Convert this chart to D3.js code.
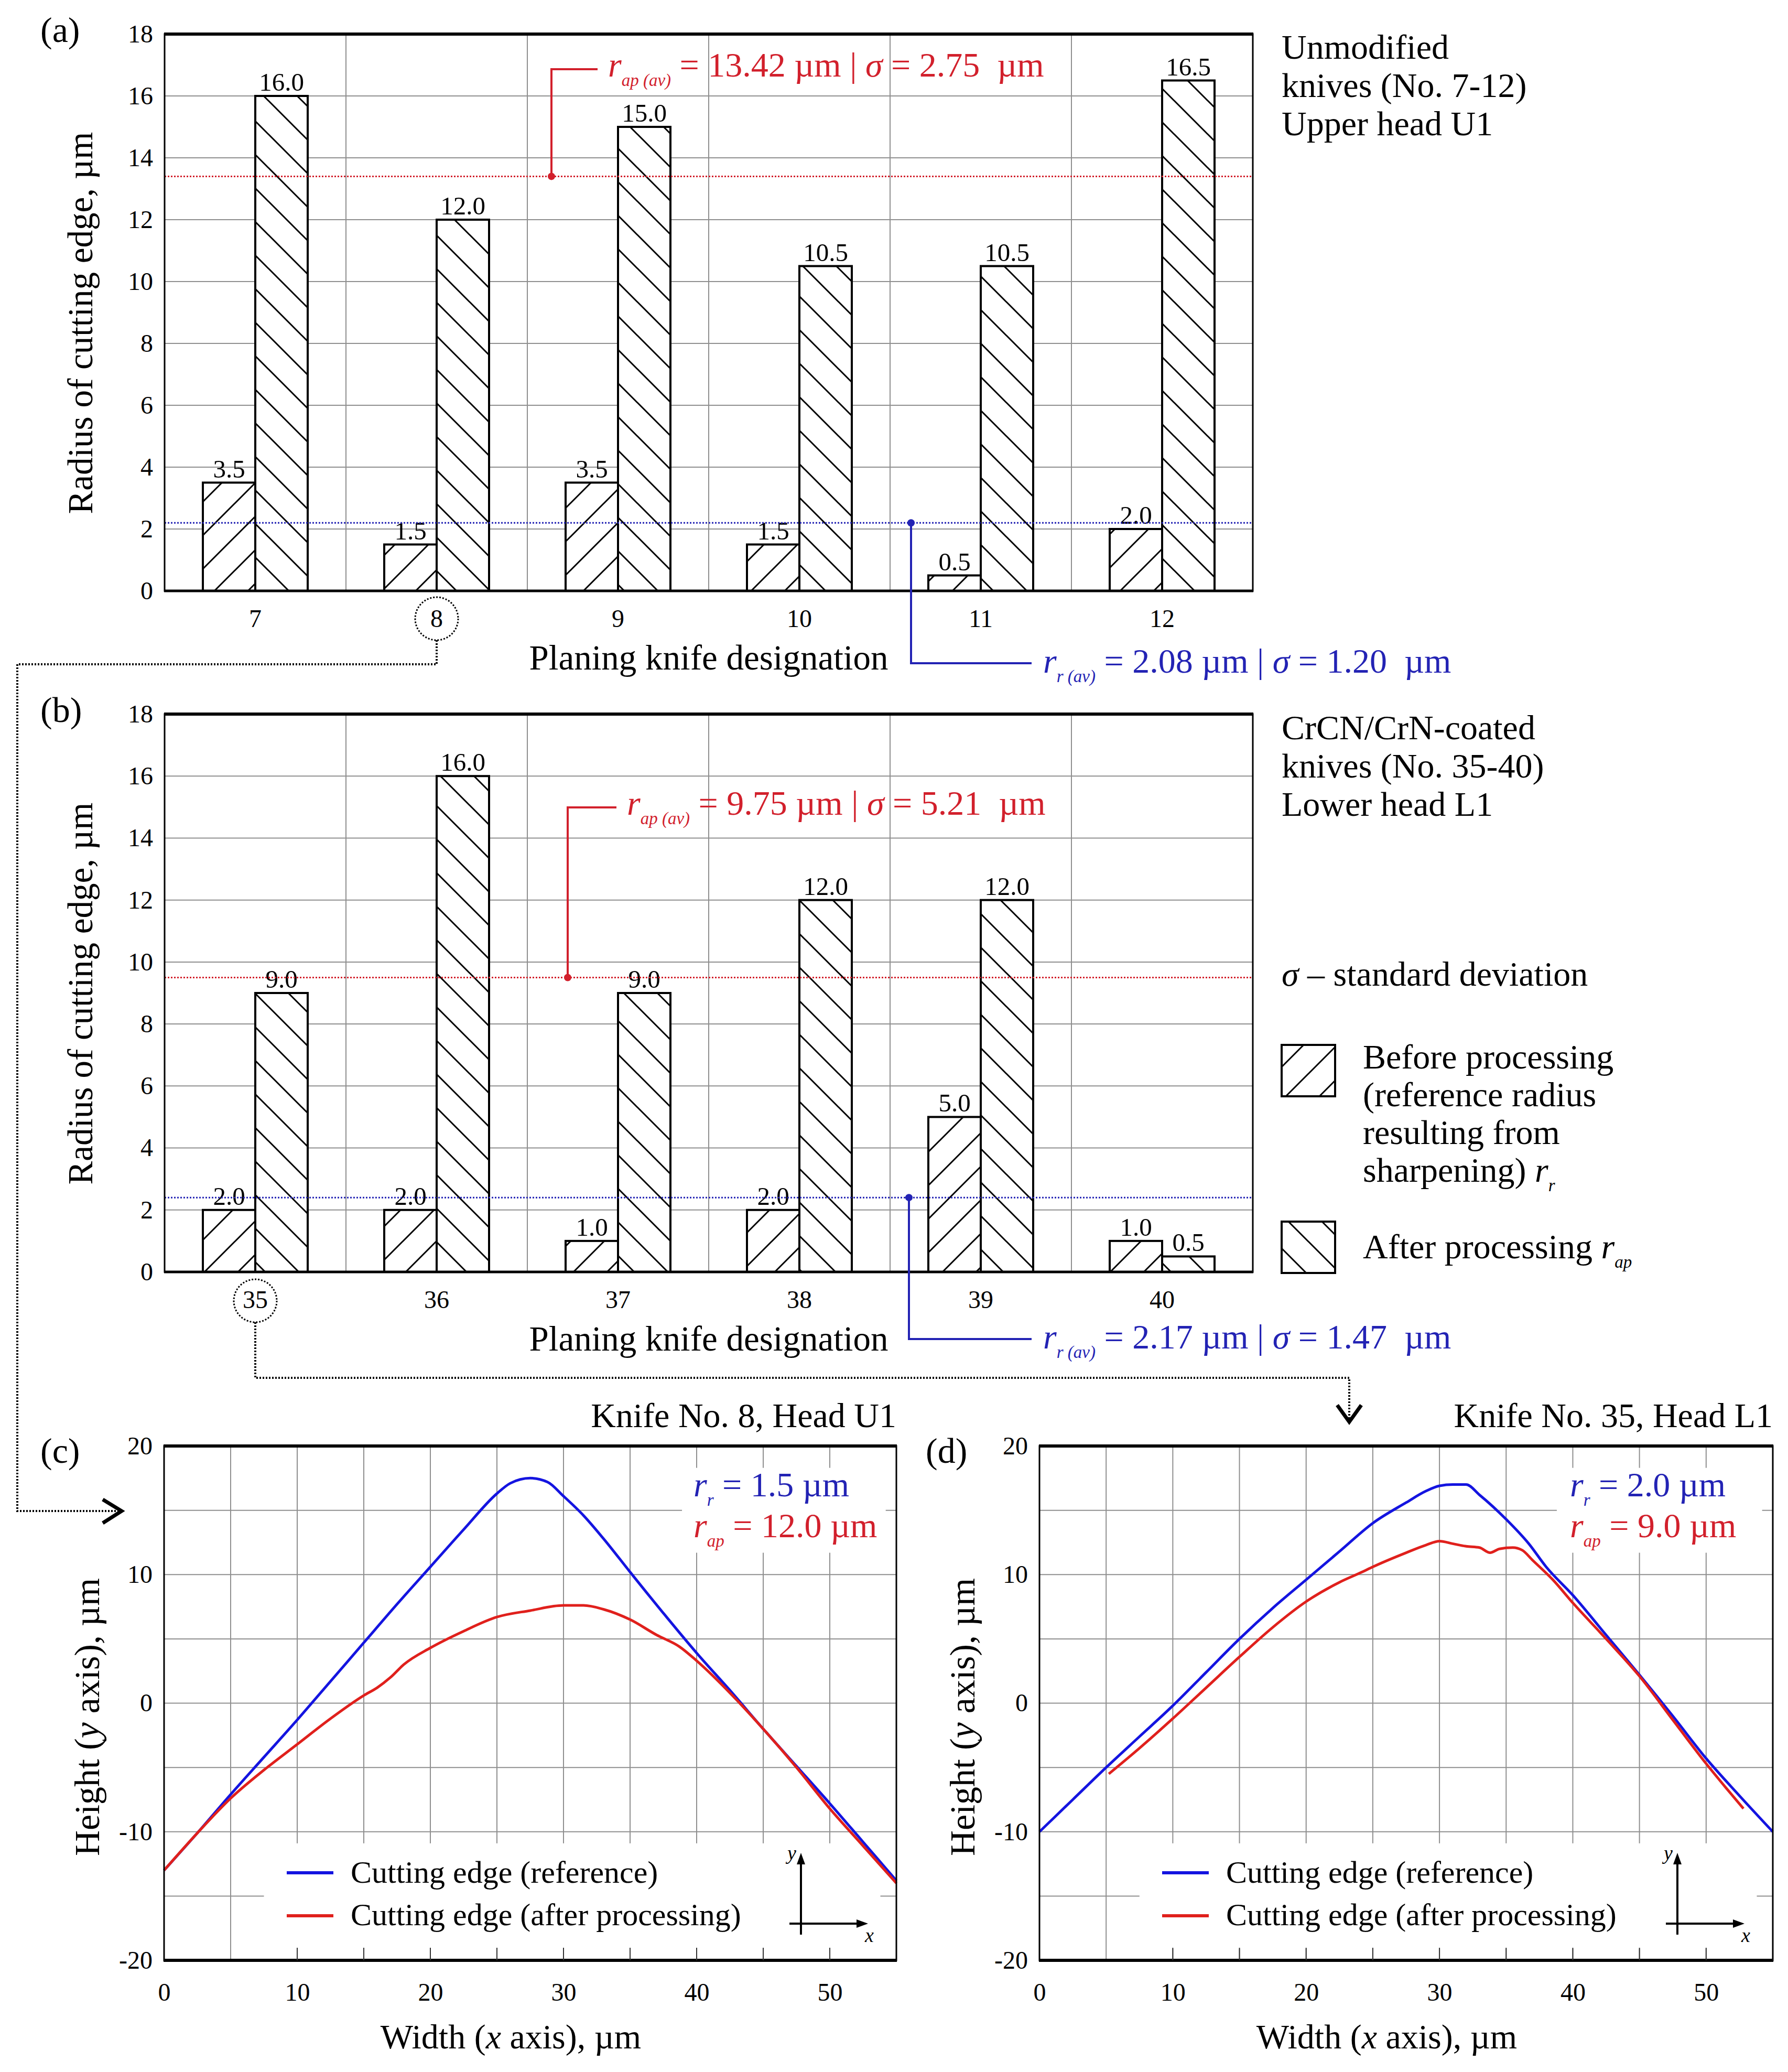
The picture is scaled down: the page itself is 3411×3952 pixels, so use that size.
<!DOCTYPE html>
<html><head><meta charset="utf-8">
<script src="https://cdn.jsdelivr.net/npm/d3@7/dist/d3.min.js"></script>
<style>
body{margin:0;background:#fff}
svg{display:block}
text{font-family:"Liberation Serif","Times New Roman",serif;white-space:pre}
</style>
</head><body><div id="chart"></div>
<script>
// ---------------- DATA ----------------
const knivesA = ["7","8","9","10","11","12"];
const beforeA = [3.5,1.5,3.5,1.5,0.5,2.0];
const afterA  = [16.0,12.0,15.0,10.5,10.5,16.5];
const knivesB = ["35","36","37","38","39","40"];
const beforeB = [2.0,2.0,1.0,2.0,5.0,1.0];
const afterB  = [9.0,16.0,9.0,12.0,12.0,0.5];
const barTicks = [0,2,4,6,8,10,12,14,16,18];
const meanLinesA = [13.4, 2.2];   // drawn positions: r_ap(av), r_r(av)
const meanLinesB = [9.5, 2.4];
const statsA = ["13.42","2.75","2.08","1.20"];
const statsB = ["9.75","5.21","2.17","1.47"];
const profXTicks = [0,10,20,30,40,50];
const profYTicks = [-20,-10,0,10,20];
const profGrid = [5,10,15,20,25,30,35,40,45,50];
const profGridY = [-15,-10,-5,0,5,10,15];
// Knife 8 (c)
const refC = [[0,-13.0],[2.5,-10.1],[5,-7.1],[7.5,-4.2],[10,-1.3],[12.5,1.7],[15,4.7],[17.5,7.7],[20,10.6],[22.5,13.5],[25,16.3],[26,17.1],[27.5,17.5],[28.8,17.2],[30,16.1],[31.5,14.6],[33,12.8],[35,10.2],[37.5,7.0],[40,3.9],[42.5,1.0],[45,-2.0],[47.5,-4.9],[50,-7.8],[52.5,-10.8],[55,-13.8]];
const apC  = [[0,-13.0],[2.5,-10.1],[5,-7.4],[7.5,-5.2],[10,-3.2],[12.5,-1.2],[15,0.6],[16,1.2],[17,2.0],[18,3.0],[20,4.3],[22.5,5.6],[25,6.7],[27.5,7.2],[30,7.6],[31.5,7.6],[33,7.3],[35,6.5],[37,5.3],[38.7,4.4],[40,3.3],[42.5,0.8],[45,-2.0],[47.5,-5.0],[50,-8.2],[52.5,-11.1],[55,-14.0]];
// Knife 35 (d)
const refD = [[0,-10.0],[2.5,-7.5],[5,-5.0],[7.5,-2.6],[10,-0.2],[12.5,2.4],[15,5.0],[17.5,7.4],[20,9.6],[22.5,11.8],[25,14.0],[27.5,15.6],[29,16.5],[30,16.9],[31,17.0],[32,17.0],[33,16.2],[35,14.3],[36.7,12.4],[38,10.6],[40,8.4],[42.5,5.3],[45,2.2],[47.5,-1.0],[50,-4.3],[52.5,-7.2],[55,-10.0]];
const apD  = [[5.2,-5.5],[7.5,-3.5],[10,-1.2],[12.5,1.2],[15,3.6],[17.5,5.9],[20,7.9],[22.5,9.4],[24.2,10.2],[25,10.6],[27.5,11.7],[29,12.3],[30,12.6],[31,12.4],[32,12.2],[33,12.1],[33.8,11.7],[34.5,12.0],[35.5,12.1],[36.2,11.9],[37,11.1],[38.5,9.6],[40,7.8],[42.5,5.0],[45,2.1],[47.5,-1.3],[50,-4.7],[51.5,-6.6],[52.8,-8.2]];
const radiiC = ["1.5","12.0"];
const radiiD = ["2.0","9.0"];

// ---------------- SETUP ----------------
const W = 3411, H = 3952;
const RED = "#d2202c", BLUE = "#2323b4", LRED = "#e0201c", LBLUE = "#1414e0", GRID = "#8f8f8f";
const svg = d3.select("#chart").append("svg").attr("width", W).attr("height", H).attr("viewBox", `0 0 ${W} ${H}`);
svg.append("rect").attr("width", W).attr("height", H).attr("fill", "#fff");
const defs = svg.append("defs");
function hatch(id, up) {
  const p = defs.append("pattern").attr("id", id).attr("patternUnits", "userSpaceOnUse").attr("width", 64).attr("height", 64);
  p.append("path").attr("d", up ? "M-16,16L16,-16M0,64L64,0M48,80L80,48" : "M-16,48L16,80M0,0L64,64M48,-16L80,16")
    .attr("stroke", "#000").attr("stroke-width", 3).attr("fill", "none");
}
hatch("hUp", true); hatch("hDown", false);

function rich(g, x, y, parts, size, fill, anchor) {
  const t = g.append("text").attr("x", x).attr("y", y).attr("font-size", size).attr("fill", fill || "#000").attr("text-anchor", anchor || "start");
  let shifted = 0;
  parts.forEach(p => {
    const ts = t.append("tspan").text(p.t);
    if (p.i) ts.attr("font-style", "italic");
    if (p.sub) { ts.attr("font-size", size * 0.5).attr("dy", size * 0.28); shifted = size * 0.28; }
    else if (shifted) { ts.attr("dy", -shifted); shifted = 0; }
  });
  return t;
}
function plain(g, x, y, s, size, anchor, fill) {
  return g.append("text").attr("x", x).attr("y", y).attr("font-size", size).attr("text-anchor", anchor || "start").attr("fill", fill || "#000").text(s);
}
function dotted(g, pts, w) {
  g.append("path").attr("d", d3.line()(pts)).attr("fill", "none").attr("stroke", "#000").attr("stroke-width", w || 3).attr("stroke-dasharray", "3,3");
}

// ---------------- BAR PANELS ----------------
function barPanel(cfg) {
  const { top, bottom, left, right, cats, before, after, means, stats, lbl, yLabY, redDot, redTxt, blueDot, blueTxt } = cfg;
  const g = svg.append("g");
  const x = d3.scaleBand().domain(cats).range([left, right]);
  const xs = d3.scaleBand().domain(["before", "after"]).range([0, x.bandwidth()]).paddingOuter(0.73);
  const y = d3.scaleLinear().domain([0, 18]).range([bottom, top]);
  g.selectAll(null).data(barTicks.filter(d => d > 0 && d < 18)).join("line")
    .attr("x1", left).attr("x2", right).attr("y1", d => y(d)).attr("y2", d => y(d)).attr("stroke", GRID).attr("stroke-width", 2);
  g.selectAll(null).data(cats.slice(1)).join("line")
    .attr("x1", d => x(d)).attr("x2", d => x(d)).attr("y1", top).attr("y2", bottom).attr("stroke", GRID).attr("stroke-width", 2);
  const rows = cats.map((c, i) => ({ c, b: before[i], a: after[i] }));
  const series = [["before", "b", "hUp"], ["after", "a", "hDown"]];
  series.forEach(([key, f, pat]) => {
    const bx = d => x(d.c) + xs(key);
    g.selectAll(null).data(rows).join("rect").attr("x", bx).attr("y", d => y(d[f])).attr("width", xs.bandwidth()).attr("height", d => bottom - y(d[f])).attr("fill", "#fff");
    g.selectAll(null).data(rows).join("rect").attr("x", bx).attr("y", d => y(d[f])).attr("width", xs.bandwidth()).attr("height", d => bottom - y(d[f]))
      .attr("fill", `url(#${pat})`).attr("stroke", "#000").attr("stroke-width", 4);
    g.selectAll(null).data(rows).join("text").attr("x", d => bx(d) + xs.bandwidth() / 2).attr("y", d => y(d[f]) - 10)
      .attr("text-anchor", "middle").attr("font-size", 49).text(d => d[f].toFixed(1));
  });
  // mean lines
  g.append("line").attr("x1", left).attr("x2", right).attr("y1", y(means[0])).attr("y2", y(means[0])).attr("stroke", RED).attr("stroke-width", 3).attr("stroke-dasharray", "3,3");
  g.append("line").attr("x1", left).attr("x2", right).attr("y1", y(means[1])).attr("y2", y(means[1])).attr("stroke", BLUE).attr("stroke-width", 3).attr("stroke-dasharray", "3,3");
  // frame
  g.append("rect").attr("x", left).attr("y", top).attr("width", right - left).attr("height", bottom - top).attr("fill", "none").attr("stroke", "#000").attr("stroke-width", 3);
  g.append("line").attr("x1", left - 1).attr("x2", right + 1).attr("y1", top).attr("y2", top).attr("stroke", "#000").attr("stroke-width", 6);
  g.append("line").attr("x1", left - 1).attr("x2", right + 1).attr("y1", bottom).attr("y2", bottom).attr("stroke", "#000").attr("stroke-width", 5);
  // axes
  const ya = g.append("g").attr("transform", `translate(${left},0)`).call(d3.axisLeft(y).tickValues(barTicks).tickSize(0).tickPadding(22));
  const xa = g.append("g").attr("transform", `translate(0,${bottom})`).call(d3.axisBottom(x).tickSize(0).tickPadding(35));
  [ya, xa].forEach(a => { a.select(".domain").remove(); a.selectAll("text").attr("font-size", 48).attr("font-family", "Liberation Serif").attr("fill", "#000"); });
  plain(g, 77, top + 15, lbl, 68);
  g.append("text").attr("transform", `translate(176,${yLabY}) rotate(-90)`).attr("text-anchor", "middle").attr("font-size", 67).text("Radius of cutting edge, \u00b5m");
  plain(g, (left + right) / 2, bottom + 150, "Planing knife designation", 67, "middle");
  // red annotation
  const rdX = redDot, rdY = y(means[0]);
  g.append("path").attr("d", `M${rdX},${rdY}V${redTxt[1] - 14}H${redTxt[0] - 20}`).attr("fill", "none").attr("stroke", RED).attr("stroke-width", 4);
  g.append("circle").attr("cx", rdX).attr("cy", rdY).attr("r", 7).attr("fill", RED);
  rich(g, redTxt[0], redTxt[1], [{ t: "r", i: 1 }, { t: "ap (av)", i: 1, sub: 1 }, { t: " = " + stats[0] + " \u00b5m | " }, { t: "\u03c3", i: 1 }, { t: " = " + stats[1] + "  \u00b5m" }], 66, RED);
  const bdY = y(means[1]);
  g.append("path").attr("d", `M${blueDot},${bdY}V${blueTxt[1] - 18}H${blueTxt[0] - 22}`).attr("fill", "none").attr("stroke", BLUE).attr("stroke-width", 4);
  g.append("circle").attr("cx", blueDot).attr("cy", bdY).attr("r", 7).attr("fill", BLUE);
  rich(g, blueTxt[0], blueTxt[1], [{ t: "r", i: 1 }, { t: "r (av)", i: 1, sub: 1 }, { t: " = " + stats[2] + " \u00b5m | " }, { t: "\u03c3", i: 1 }, { t: " = " + stats[3] + "  \u00b5m" }], 66, BLUE);
  return { x, y, g };
}

const pa = barPanel({ top: 65, bottom: 1127, left: 314, right: 2390, cats: knivesA, before: beforeA, after: afterA, means: meanLinesA, stats: statsA,
  lbl: "(a)", yLabY: 616, redDot: 1052, redTxt: [1160, 146], blueDot: 1738, blueTxt: [1990, 1283] });
const pb = barPanel({ top: 1362, bottom: 2426, left: 314, right: 2390, cats: knivesB, before: beforeB, after: afterB, means: meanLinesB, stats: statsB,
  lbl: "(b)", yLabY: 1895, redDot: 1083, redTxt: [1196, 1554], blueDot: 1734, blueTxt: [1990, 2572] });

// right side texts
const side = svg.append("g");
["Unmodified", "knives (No. 7-12)", "Upper head U1"].forEach((s, i) => plain(side, 2445, 112 + i * 73, s, 66));
["CrCN/CrN-coated", "knives (No. 35-40)", "Lower head L1"].forEach((s, i) => plain(side, 2445, 1410 + i * 73, s, 66));
rich(side, 2445, 1880, [{ t: "\u03c3", i: 1 }, { t: " \u2013 standard deviation" }], 66);
side.append("rect").attr("x", 2445).attr("y", 1993).attr("width", 102).attr("height", 98).attr("fill", "url(#hUp)").attr("stroke", "#000").attr("stroke-width", 4);
side.append("rect").attr("x", 2445).attr("y", 2330).attr("width", 102).attr("height", 98).attr("fill", "url(#hDown)").attr("stroke", "#000").attr("stroke-width", 4);
["Before processing", "(reference radius", "resulting from"].forEach((s, i) => plain(side, 2600, 2038 + i * 72, s, 66));
rich(side, 2600, 2254, [{ t: "sharpening) " }, { t: "r", i: 1 }, { t: "r", i: 1, sub: 1 }], 66);
rich(side, 2600, 2400, [{ t: "After processing " }, { t: "r", i: 1 }, { t: "ap", i: 1, sub: 1 }], 66);

// circles & dotted connectors
const conn = svg.append("g");
const c8x = pa.x("8") + pa.x.bandwidth() / 2, c35x = pb.x("35") + pb.x.bandwidth() / 2;
conn.append("circle").attr("cx", c8x).attr("cy", 1180).attr("r", 41).attr("fill", "none").attr("stroke", "#000").attr("stroke-width", 3).attr("stroke-dasharray", "3,3");
conn.append("circle").attr("cx", c35x).attr("cy", 2481).attr("r", 41).attr("fill", "none").attr("stroke", "#000").attr("stroke-width", 3).attr("stroke-dasharray", "3,3");
dotted(conn, [[c8x, 1221], [c8x, 1267], [33, 1267], [33, 2882], [226, 2882]], 4);
dotted(conn, [[c35x, 2522], [c35x, 2628], [2574, 2628], [2574, 2706]], 4);
conn.append("path").attr("d", "M196,2860L232,2882L196,2905").attr("fill", "none").attr("stroke", "#000").attr("stroke-width", 7);
conn.append("path").attr("d", "M2551,2680L2574,2712L2597,2680").attr("fill", "none").attr("stroke", "#000").attr("stroke-width", 7);

// ---------------- PROFILE PANELS ----------------
function profPanel(cfg) {
  const { left, right, top, bottom, ref, ap, lbl, title, radii, legBox, annBox } = cfg;
  const g = svg.append("g");
  const x = d3.scaleLinear().domain([0, 55]).range([left, right]);
  const y = d3.scaleLinear().domain([-20, 20]).range([bottom, top]);
  g.selectAll(null).data(profGridY).join("line").attr("x1", left).attr("x2", right).attr("y1", d => y(d)).attr("y2", d => y(d)).attr("stroke", GRID).attr("stroke-width", 2);
  g.selectAll(null).data(profGrid).join("line").attr("x1", d => x(d)).attr("x2", d => x(d)).attr("y1", top).attr("y2", bottom).attr("stroke", GRID).attr("stroke-width", 2);
  // white boxes behind legend and annotation
  g.append("rect").attr("x", x(legBox[0])).attr("y", y(legBox[3])).attr("width", x(legBox[1]) - x(legBox[0])).attr("height", y(legBox[2]) - y(legBox[3])).attr("fill", "#fff");
  g.append("rect").attr("x", x(annBox[0])).attr("y", y(annBox[3])).attr("width", x(annBox[1]) - x(annBox[0])).attr("height", y(annBox[2]) - y(annBox[3])).attr("fill", "#fff");
  const line = d3.line().x(d => x(d[0])).y(d => y(d[1])).curve(d3.curveMonotoneX);
  g.append("path").attr("d", line(ref)).attr("fill", "none").attr("stroke", LBLUE).attr("stroke-width", 5);
  g.append("path").attr("d", line(ap)).attr("fill", "none").attr("stroke", LRED).attr("stroke-width", 5);
  // frame
  g.append("rect").attr("x", left).attr("y", top).attr("width", right - left).attr("height", bottom - top).attr("fill", "none").attr("stroke", "#000").attr("stroke-width", 3);
  g.append("line").attr("x1", left - 1).attr("x2", right + 1).attr("y1", top).attr("y2", top).attr("stroke", "#000").attr("stroke-width", 6);
  g.append("line").attr("x1", left - 1).attr("x2", right + 1).attr("y1", bottom).attr("y2", bottom).attr("stroke", "#000").attr("stroke-width", 6);
  const xa = g.append("g").attr("transform", `translate(0,${bottom})`).call(d3.axisBottom(x).tickValues(profXTicks).tickSize(0).tickPadding(43).tickFormat(d3.format("d")));
  const ya = g.append("g").attr("transform", `translate(${left},0)`).call(d3.axisLeft(y).tickValues(profYTicks).tickSize(0).tickPadding(22).tickFormat(d => d < 0 ? "-" + Math.abs(d) : d));
  [ya, xa].forEach(a => { a.select(".domain").remove(); a.selectAll("text").attr("font-size", 48).attr("font-family", "Liberation Serif").attr("fill", "#000"); });
  // small inner ticks at bottom (under legend box)
  g.selectAll(null).data(profGrid.filter(d => d > legBox[0] && d < legBox[1])).join("line")
    .attr("x1", d => x(d)).attr("x2", d => x(d)).attr("y1", bottom).attr("y2", bottom - 24).attr("stroke", "#333").attr("stroke-width", 2);
  plain(g, cfg.lblX, 2790, lbl, 68);
  plain(g, right, 2722, title, 66, "end");
  rich(g, left - 124, 3275, [{ t: "Height (" }, { t: "y", i: 1 }, { t: " axis), \u00b5m" }], 68, "#000", "middle").attr("transform", `rotate(-90,${left - 124},3275)`);
  rich(g, (left + right) / 2 - 37, 3907, [{ t: "Width (" }, { t: "x", i: 1 }, { t: " axis), \u00b5m" }], 66, "#000", "middle");
  // radii annotation
  const ax = right - 387;
  rich(g, ax, 2854, [{ t: "r", i: 1 }, { t: "r", i: 1, sub: 1 }, { t: " = " + radii[0] + " \u00b5m" }], 66, BLUE);
  rich(g, ax, 2932, [{ t: "r", i: 1 }, { t: "ap", i: 1, sub: 1 }, { t: " = " + radii[1] + " \u00b5m" }], 66, RED);
  // legend
  const lx = left + 234;
  g.append("line").attr("x1", lx).attr("x2", lx + 89).attr("y1", 3572).attr("y2", 3572).attr("stroke", LBLUE).attr("stroke-width", 6);
  g.append("line").attr("x1", lx).attr("x2", lx + 89).attr("y1", 3654).attr("y2", 3654).attr("stroke", LRED).attr("stroke-width", 6);
  plain(g, lx + 122, 3591, "Cutting edge (reference)", 60);
  plain(g, lx + 122, 3672, "Cutting edge (after processing)", 60);
  // xy icon
  const ix = right - 182;
  g.append("line").attr("x1", ix).attr("x2", ix).attr("y1", 3690).attr("y2", 3552).attr("stroke", "#000").attr("stroke-width", 4);
  g.append("path").attr("d", `M${ix - 8},${3556}L${ix},${3534}L${ix + 8},${3556}Z`).attr("fill", "#000");
  g.append("line").attr("x1", ix - 22).attr("x2", ix + 110).attr("y1", 3669).attr("y2", 3669).attr("stroke", "#000").attr("stroke-width", 4);
  g.append("path").attr("d", `M${ix + 106},${3661}L${ix + 128},${3669}L${ix + 106},${3677}Z`).attr("fill", "#000");
  plain(g, ix - 26, 3547, "y", 38).attr("font-style", "italic");
  plain(g, ix + 122, 3704, "x", 38).attr("font-style", "italic");
}
profPanel({ left: 313, right: 1710, top: 2758, bottom: 3739, ref: refC, ap: apC, lbl: "(c)", lblX: 77, title: "Knife No. 8, Head U1", radii: radiiC,
  legBox: [7.5, 53.8, -19.1, -10.9], annBox: [38.9, 54.2, 11.7, 18.3] });
profPanel({ left: 1983, right: 3382, top: 2758, bottom: 3739, ref: refD, ap: apD, lbl: "(d)", lblX: 1766, title: "Knife No. 35, Head L1", radii: radiiD,
  legBox: [7.5, 53.8, -19.1, -10.9], annBox: [38.8, 54.2, 11.7, 18.3] });
</script>
</body></html>
